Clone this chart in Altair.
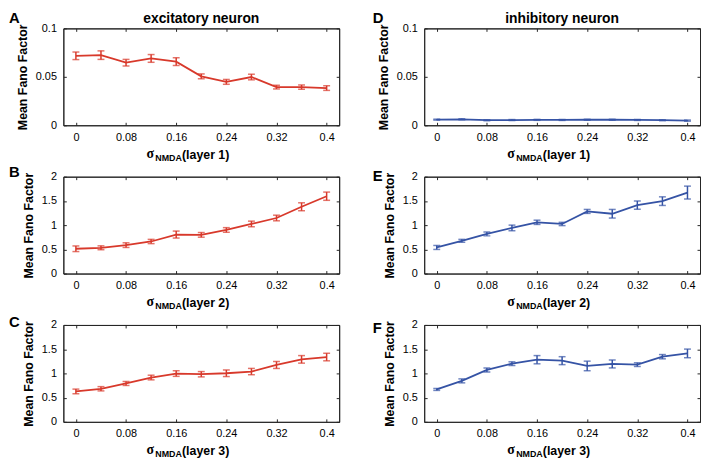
import altair as alt
import pandas as pd

# ---- data -------------------------------------------------------------
sigma = [0, 0.04, 0.08, 0.12, 0.16, 0.20, 0.24, 0.28, 0.32, 0.36, 0.40]
x_domain = [-0.02, 0.42]
x_ticks = [0, 0.08, 0.16, 0.24, 0.32, 0.4]
y_ticks_small = [0, 0.05, 0.1]
y_ticks_large = [0, 0.5, 1, 1.5, 2]

exc_l1 = [0.0717, 0.0724, 0.0646, 0.0690, 0.0657, 0.0505, 0.0448, 0.0498, 0.0394, 0.0394, 0.0384]
exc_l1_err = [0.0039, 0.0044, 0.0034, 0.0040, 0.0040, 0.0025, 0.0025, 0.0029, 0.0019, 0.0022, 0.0024]
exc_l2 = [0.512, 0.532, 0.587, 0.662, 0.805, 0.799, 0.900, 1.024, 1.147, 1.379, 1.597]
exc_l2_err = [0.058, 0.040, 0.048, 0.044, 0.072, 0.048, 0.048, 0.058, 0.058, 0.082, 0.085]
exc_l3 = [0.628, 0.683, 0.792, 0.915, 0.997, 0.983, 1.003, 1.038, 1.174, 1.290, 1.338]
exc_l3_err = [0.048, 0.044, 0.041, 0.048, 0.058, 0.055, 0.068, 0.065, 0.072, 0.078, 0.078]

inh_l1 = [0.0058, 0.0062, 0.0052, 0.0054, 0.0056, 0.0055, 0.0057, 0.0057, 0.0055, 0.0052, 0.0048]
inh_l1_err = [0.0005, 0.0005, 0.0005, 0.0005, 0.0005, 0.0005, 0.0005, 0.0005, 0.0005, 0.0005, 0.0006]
inh_l2 = [0.539, 0.676, 0.819, 0.942, 1.058, 1.024, 1.283, 1.235, 1.413, 1.495, 1.672]
inh_l2_err = [0.041, 0.030, 0.041, 0.058, 0.044, 0.034, 0.041, 0.089, 0.085, 0.089, 0.133]
inh_l3 = [0.669, 0.846, 1.072, 1.201, 1.283, 1.263, 1.154, 1.195, 1.181, 1.345, 1.413]
inh_l3_err = [0.020, 0.041, 0.041, 0.038, 0.085, 0.082, 0.099, 0.082, 0.038, 0.044, 0.089]

RED = "#d8392b"
BLUE = "#3553a5"
W, H = 279, 98
FONT = "Liberation Sans"
BOX = "#262626"

# letter, column title, layer, color, means, errors, y max, y ticks, letter dx, letter baseline dy
panels = [
    ("A", "excitatory neuron", "1", RED, exc_l1, exc_l1_err, 0.1, y_ticks_small, -55, -5),
    ("D", "inhibitory neuron", "1", BLUE, inh_l1, inh_l1_err, 0.1, y_ticks_small, -52, -5),
    ("B", "", "2", RED, exc_l2, exc_l2_err, 2, y_ticks_large, -55, 0),
    ("E", "", "2", BLUE, inh_l2, inh_l2_err, 2, y_ticks_large, -52, 4),
    ("C", "", "3", RED, exc_l3, exc_l3_err, 2, y_ticks_large, -55, 2),
    ("F", "", "3", BLUE, inh_l3, inh_l3_err, 2, y_ticks_large, -52, 8),
]


def make_panel(letter, title, layer, color, means, errs, ymax, yticks, ldx, ldy):
    df = pd.DataFrame({"x": sigma, "m": means, "e": errs})
    df["lo"] = df["m"] - df["e"]
    df["hi"] = df["m"] + df["e"]

    xs = alt.Scale(domain=x_domain, nice=False)
    ys = alt.Scale(domain=[0, ymax], nice=False)

    # main axes (labels + box edge)
    xa_main = alt.Axis(orient="bottom", values=x_ticks, format=".2~f", ticks=False,
                       domain=True, domainColor=BOX, domainWidth=1, grid=False,
                       labelPadding=6, labelFlush=False, title=None)
    ya_main = alt.Axis(orient="left", values=yticks, format=".2~f", ticks=False,
                       domain=True, domainColor=BOX, domainWidth=1, grid=False,
                       labelPadding=7, title="Mean Fano Factor",
                       titleFontWeight="bold", titleFontSize=12.5, titlePadding=6,
                       titleColor="#000000")
    # opposite box edges
    xa_top = alt.Axis(orient="top", values=x_ticks, labels=False, ticks=False,
                      domain=True, domainColor=BOX, domainWidth=1, grid=False, title=None)
    ya_right = alt.Axis(orient="right", values=yticks, labels=False, ticks=False,
                        domain=True, domainColor=BOX, domainWidth=1, grid=False, title=None)
    # inward ticks (axes pulled 3px inside the plot area)
    xa_tb = alt.Axis(orient="bottom", values=x_ticks, labels=False, domain=False,
                     ticks=True, tickSize=3, tickColor=BOX, tickWidth=1, offset=-3,
                     grid=False, title=None)
    xa_tt = alt.Axis(orient="top", values=x_ticks, labels=False, domain=False,
                     ticks=True, tickSize=3, tickColor=BOX, tickWidth=1, offset=-3,
                     grid=False, title=None)
    ya_tl = alt.Axis(orient="left", values=yticks, labels=False, domain=False,
                     ticks=True, tickSize=3, tickColor=BOX, tickWidth=1, offset=-3,
                     grid=False, title=None)
    ya_tr = alt.Axis(orient="right", values=yticks, labels=False, domain=False,
                     ticks=True, tickSize=3, tickColor=BOX, tickWidth=1, offset=-3,
                     grid=False, title=None)

    def X(f, ax):
        return alt.X(f, type="quantitative", scale=xs, axis=ax)

    def Y(f, ax):
        return alt.Y(f, type="quantitative", scale=ys, axis=ax)

    base = alt.Chart(df)
    line = base.mark_line(color=color, strokeWidth=1.8).encode(
        x=X("x", xa_main), y=Y("m", ya_main))
    bars = base.mark_rule(color=color, strokeWidth=1.5).encode(
        x=X("x", xa_top), y=Y("lo", ya_right), y2="hi")
    cap_lo = base.mark_tick(color=color, orient="horizontal", size=7, thickness=1.5).encode(
        x=X("x", xa_tb), y=Y("lo", ya_tl))
    cap_hi = base.mark_tick(color=color, orient="horizontal", size=7, thickness=1.5).encode(
        x=X("x", xa_tt), y=Y("hi", ya_tr))

    # x-axis title: sigma + subscript NMDA + (layer n)
    sig = alt.Chart(pd.DataFrame({"t": ["σ"]})).mark_text(
        font="Liberation Serif", fontWeight="bold", fontSize=14, align="left",
        baseline="alphabetic", color="#000000").encode(
        text="t:N", x=alt.value(84), y=alt.value(131))
    sub = alt.Chart(pd.DataFrame({"t": ["NMDA"]})).mark_text(
        font=FONT, fontWeight="bold", fontSize=9, align="left",
        baseline="alphabetic", color="#000000").encode(
        text="t:N", x=alt.value(93), y=alt.value(134))
    lay = alt.Chart(pd.DataFrame({"t": ["(layer " + layer + ")"]})).mark_text(
        font=FONT, fontWeight="bold", fontSize=12.5, align="left",
        baseline="alphabetic", color="#000000").encode(
        text="t:N", x=alt.value(120), y=alt.value(132))

    let = alt.Chart(pd.DataFrame({"t": [letter]})).mark_text(
        font=FONT, fontWeight="bold", fontSize=15, align="left",
        baseline="alphabetic", color="#000000").encode(
        text="t:N", x=alt.value(ldx), y=alt.value(ldy))

    layers = [line, bars, cap_lo, cap_hi, sig, sub, lay, let]
    if title:
        ttl = alt.Chart(pd.DataFrame({"t": [title]})).mark_text(
            font=FONT, fontWeight="bold", fontSize=14, align="center",
            baseline="alphabetic", color="#000000").encode(
            text="t:N", x=alt.value(W / 2), y=alt.value(-5))
        layers.append(ttl)
    return alt.layer(*layers).resolve_axis(
        x="independent", y="independent").properties(width=W, height=H)


charts = [make_panel(*p) for p in panels]

chart = alt.concat(*charts, columns=2, spacing={"row": 52, "column": 86},
                   bounds="flush").properties(
    padding=0
).configure_view(
    stroke=BOX, strokeWidth=1
).configure_axis(
    labelFont=FONT, labelFontSize=11, labelColor="#000000", titleFont=FONT
)

chart.save("out.html", embed_options={"renderer": "svg", "actions": False})
